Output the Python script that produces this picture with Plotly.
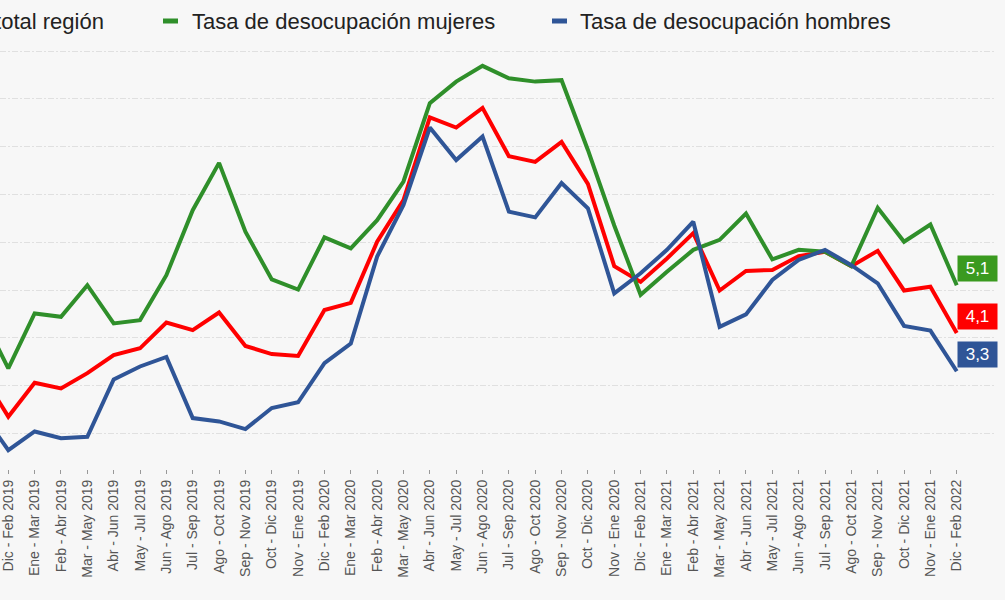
import plotly.graph_objects as go

categories = [
    "Nov - Ene 2018",
    "Dic - Feb 2019", "Ene - Mar 2019", "Feb - Abr 2019", "Mar - May 2019",
    "Abr - Jun 2019", "May - Jul 2019", "Jun - Ago 2019", "Jul - Sep 2019",
    "Ago - Oct 2019", "Sep - Nov 2019", "Oct - Dic 2019", "Nov - Ene 2019",
    "Dic - Feb 2020", "Ene - Mar 2020", "Feb - Abr 2020", "Mar - May 2020",
    "Abr - Jun 2020", "May - Jul 2020", "Jun - Ago 2020", "Jul - Sep 2020",
    "Ago - Oct 2020", "Sep - Nov 2020", "Oct - Dic 2020", "Nov - Ene 2020",
    "Dic - Feb 2021", "Ene - Mar 2021", "Feb - Abr 2021", "Mar - May 2021",
    "Abr - Jun 2021", "May - Jul 2021", "Jun - Ago 2021", "Jul - Sep 2021",
    "Ago - Oct 2021", "Sep - Nov 2021", "Oct - Dic 2021", "Nov - Ene 2021",
    "Dic - Feb 2022",
]

total_region = [
    3.24,
    2.35, 3.06, 2.94, 3.26, 3.64, 3.78, 4.32, 4.16, 4.53, 3.83, 3.66, 3.62,
    4.58, 4.73, 6.01, 6.88, 8.61, 8.40, 8.81, 7.80, 7.68, 8.10, 7.22, 5.50,
    5.17, 5.66, 6.19, 4.99, 5.40, 5.42, 5.71, 5.80, 5.50, 5.82, 4.99, 5.07,
    4.1,
]

mujeres = [
    4.46,
    3.36, 4.51, 4.44, 5.10, 4.30, 4.37, 5.31, 6.67, 7.66, 6.22, 5.22, 5.01,
    6.10, 5.87, 6.46, 7.27, 8.91, 9.36, 9.69, 9.43, 9.36, 9.39, 7.93, 6.35,
    4.90, 5.38, 5.84, 6.05, 6.60, 5.64, 5.84, 5.80, 5.50, 6.72, 6.01, 6.37,
    5.1,
]

hombres = [
    2.43,
    1.65, 2.04, 1.90, 1.93, 3.13, 3.40, 3.60, 2.32, 2.25, 2.09, 2.53, 2.65,
    3.47, 3.88, 5.70, 6.78, 8.40, 7.72, 8.21, 6.64, 6.52, 7.24, 6.71, 4.93,
    5.35, 5.84, 6.43, 4.23, 4.49, 5.21, 5.63, 5.84, 5.52, 5.14, 4.25, 4.15,
    3.3,
]

series_names = [
    "Tasa de desocupación total región",
    "Tasa de desocupación mujeres",
    "Tasa de desocupación hombres",
]

RED = "#ff0000"
GREEN = "#2f8f2a"
GREEN_BOX = "#3a9a1f"
BLUE = "#2f5597"
FONT = "Liberation Sans, Arial, sans-serif"

fig = go.Figure()
for name, vals, col in [
    (series_names[0], total_region, RED),
    (series_names[1], mujeres, GREEN),
    (series_names[2], hombres, BLUE),
]:
    fig.add_trace(go.Scatter(
        x=categories, y=vals, mode="lines", name=name,
        line=dict(color=col, width=4), showlegend=False,
    ))

# End-value labels
for vals, col in [(mujeres, GREEN_BOX), (total_region, RED), (hombres, BLUE)]:
    v = vals[-1]
    fig.add_annotation(
        x=categories[-1], y=v, xref="x", yref="y",
        text=f"{v:.1f}".replace(".", ","), showarrow=False,
        xanchor="left", yanchor="bottom", yshift=3,
        bgcolor=col, font=dict(color="white", size=17, family=FONT),
        width=35, height=21, borderpad=2,
    )

# Manual legend (plot domain spans pixels 0..996 horizontally, 45..469 vertically)
PW, PT, PB = 996.0, 45.0, 469.0
def px(p):
    return p / PW
def py(p):
    return (PB - p) / (PB - PT)

legend_items = [
    (series_names[0], RED, None, 106),   # marker off-canvas, text right end
    (series_names[1], GREEN, 163, 190),
    (series_names[2], BLUE, 552, 578),
]
for name, col, mx, tx in legend_items:
    if mx is None:
        fig.add_annotation(x=px(tx), y=py(21), xref="paper", yref="paper",
                           text=name, showarrow=False, xanchor="right", yanchor="middle",
                           font=dict(size=22, color="#222222", family=FONT))
    else:
        fig.add_shape(type="line", xref="paper", yref="paper",
                      x0=px(mx), x1=px(mx + 15), y0=py(21), y1=py(21),
                      line=dict(color=col, width=5))
        fig.add_annotation(x=px(tx), y=py(21), xref="paper", yref="paper",
                           text=name, showarrow=False, xanchor="left", yanchor="middle",
                           font=dict(size=22, color="#222222", family=FONT))

fig.update_layout(
    width=1005, height=600,
    margin=dict(l=0, r=9, t=45, b=131, autoexpand=False),
    paper_bgcolor="#f7f7f7", plot_bgcolor="#f7f7f7",
    showlegend=False,
    font=dict(family=FONT),
)
fig.update_xaxes(
    type="category", categoryorder="array", categoryarray=categories,
    range=[0.685, 38.49],
    tickangle=-90, tickfont=dict(size=14, color="#555555", family=FONT),
    ticks="outside", ticklen=4, tickcolor="#999999", tickwidth=1,
    showgrid=False, showline=False, zeroline=False,
)
fig.update_yaxes(
    range=[1.255, 10.126], dtick=1, tick0=0,
    showticklabels=False, showgrid=True, gridcolor="#e0e0e0",
    griddash="6px,2px,2px,2px", gridwidth=1, zeroline=False, showline=False,
)

fig.write_html(
    "out.html",
    config={"displayModeBar": False},
    post_script="document.body.style.margin='0';document.body.style.background='#f7f7f7';",
)
